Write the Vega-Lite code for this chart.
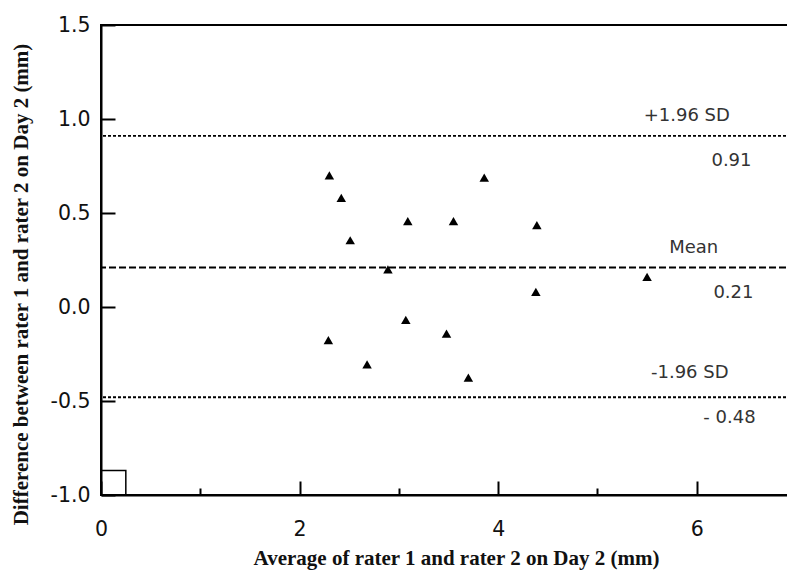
{
  "$schema": "https://vega.github.io/schema/vega-lite/v6.json",
  "width": 695,
  "height": 470,
  "autosize": {"type": "none"},
  "padding": {"left": 101, "top": 25, "right": 0, "bottom": 75},
  "background": "white",
  "config": {
    "view": {"stroke": "black", "strokeWidth": 2},
    "axis": {
      "domainColor": "black",
      "domainWidth": 2,
      "tickColor": "black",
      "tickWidth": 2,
      "labelFont": "DejaVu Sans",
      "labelFontSize": 20.5,
      "labelColor": "#111",
      "labelFlush": false,
      "titleFont": "Liberation Serif",
      "titleFontWeight": "bold",
      "titleFontSize": 21,
      "titleColor": "#111",
      "grid": false
    }
  },
  "layer": [
    {
      "data": {"values": [
        {"kind": "+1.96 SD", "diff": 0.91},
        {"kind": "Mean", "diff": 0.21},
        {"kind": "-1.96 SD", "diff": -0.48}
      ]},
      "mark": {"type": "rule", "strokeWidth": 1.8, "color": "black"},
      "encoding": {
        "y": {"field": "diff", "type": "quantitative", "scale": {"domain": [-1, 1.5], "nice": false, "zero": false},
          "axis": {"values": [-1, -0.5, 0, 0.5, 1, 1.5],
            "labelExpr": "(datum.value < 0 ? '-' : '') + format(abs(datum.value), '.1f')",
            "tickSize": -14, "labelPadding": 25,
            "title": "Difference between rater 1 and rater 2 on Day 2 (mm)",
            "titleX": -74, "titleY": 259, "titleAngle": -90, "titleBaseline": "alphabetic", "titleAlign": "center"}},
        "strokeDash": {"field": "kind", "type": "nominal", "legend": null,
          "scale": {"domain": ["+1.96 SD", "Mean", "-1.96 SD"], "range": [[3, 2], [7, 3], [3, 2]]}}
      }
    },
    {
      "data": {"values": [
        {"avg": 2.30, "diff": 0.70},
        {"avg": 2.42, "diff": 0.58},
        {"avg": 2.51, "diff": 0.355},
        {"avg": 2.89, "diff": 0.20},
        {"avg": 3.09, "diff": 0.457},
        {"avg": 3.55, "diff": 0.457},
        {"avg": 3.86, "diff": 0.688},
        {"avg": 4.39, "diff": 0.436},
        {"avg": 4.38, "diff": 0.08},
        {"avg": 5.50, "diff": 0.16},
        {"avg": 2.29, "diff": -0.176},
        {"avg": 2.68, "diff": -0.305},
        {"avg": 3.07, "diff": -0.069},
        {"avg": 3.48, "diff": -0.142},
        {"avg": 3.70, "diff": -0.376}
      ]},
      "mark": {"type": "point", "shape": "triangle-up", "filled": true, "color": "black", "size": 90, "opacity": 1},
      "encoding": {
        "x": {"field": "avg", "type": "quantitative", "scale": {"domain": [0, 7], "nice": false, "zero": false},
          "axis": {"values": [0, 1, 2, 3, 4, 5, 6], "labelExpr": "datum.value % 2 ? '' : format(datum.value, 'd')",
            "tickSize": {"condition": {"test": "datum.value % 2 === 1", "value": -7}, "value": -14},
            "labelPadding": 38,
            "title": "Average of rater 1 and rater 2 on Day 2 (mm)",
            "titleX": 355, "titleY": 69, "titleBaseline": "alphabetic", "titleAlign": "center"}},
        "y": {"field": "diff", "type": "quantitative"}
      }
    },
    {
      "data": {"values": [{"x0": 0, "x1": 0.25, "y0": -1, "y1": -0.87}]},
      "mark": {"type": "rect", "fill": null, "stroke": "black", "strokeWidth": 1.5},
      "encoding": {
        "x": {"field": "x0", "type": "quantitative"},
        "x2": {"field": "x1"},
        "y": {"field": "y0", "type": "quantitative"},
        "y2": {"field": "y1"}
      }
    },
    {
      "data": {"values": [
        {"label": "+1.96 SD", "lx": 5.90, "ly": 1.016},
        {"label": "0.91", "lx": 6.35, "ly": 0.777},
        {"label": "Mean", "lx": 5.97, "ly": 0.314},
        {"label": "0.21", "lx": 6.37, "ly": 0.074},
        {"label": "-1.96 SD", "lx": 5.93, "ly": -0.351},
        {"label": "- 0.48", "lx": 6.33, "ly": -0.59}
      ]},
      "mark": {"type": "text", "font": "DejaVu Sans", "fontSize": 18, "color": "#333", "align": "center", "baseline": "middle"},
      "encoding": {
        "x": {"field": "lx", "type": "quantitative"},
        "y": {"field": "ly", "type": "quantitative"},
        "text": {"field": "label", "type": "nominal"}
      }
    }
  ]
}
